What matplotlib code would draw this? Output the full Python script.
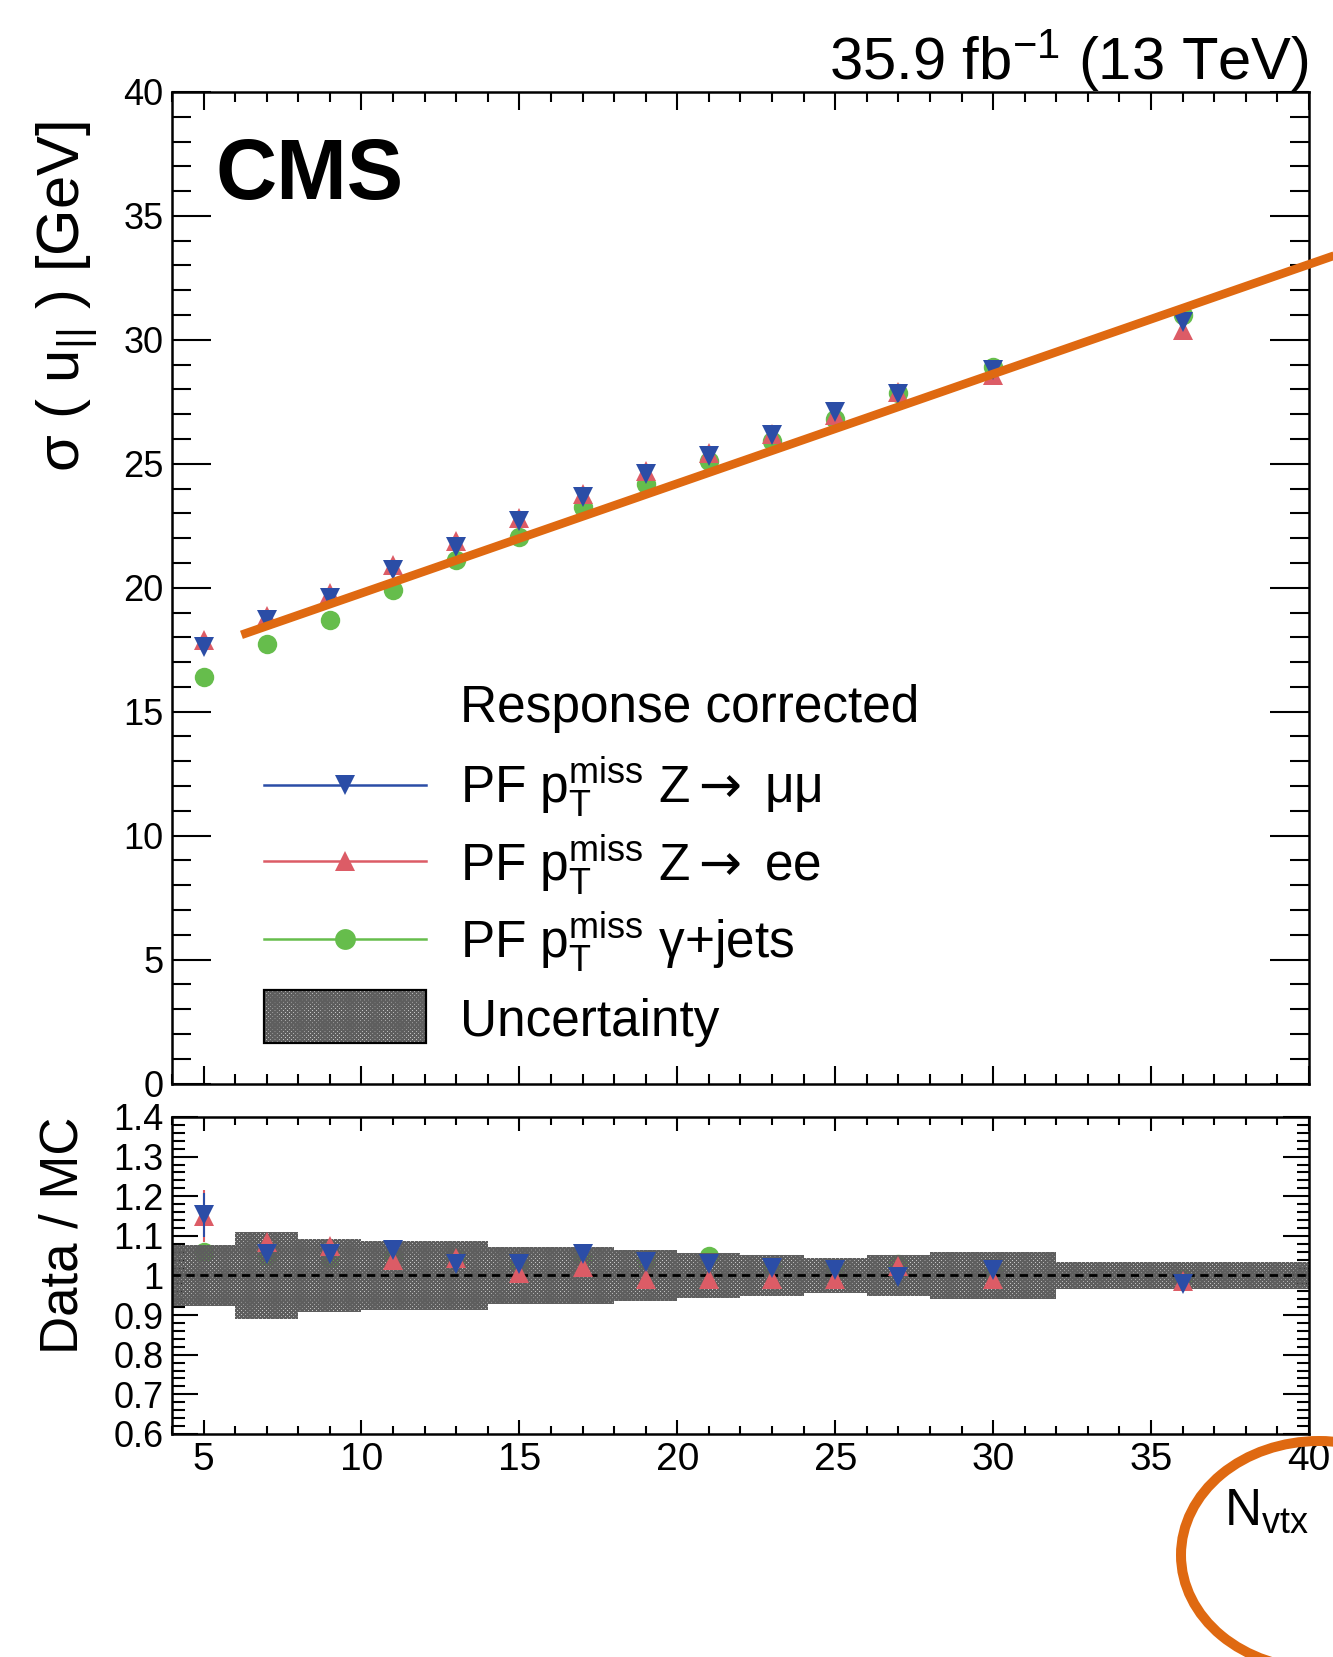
import numpy as np
import matplotlib
matplotlib.use("Agg")
import matplotlib.pyplot as plt
from matplotlib.lines import Line2D
from matplotlib.patches import Rectangle, Ellipse

plt.rcParams["font.family"] = ["Liberation Sans", "DejaVu Sans"]
plt.rcParams["mathtext.fontset"] = "custom"
plt.rcParams["mathtext.rm"] = "Liberation Sans"
plt.rcParams["mathtext.it"] = "Liberation Sans:italic"
plt.rcParams["mathtext.bf"] = "Liberation Sans:bold"
plt.rcParams["mathtext.sf"] = "DejaVu Sans"
plt.rcParams["hatch.linewidth"] = 1.5

# --- data -------------------------------------------------------------
bin_edges = [4, 6, 8, 10, 12, 14, 16, 18, 20, 22, 24, 26, 28, 32, 40]
nvtx = [5, 7, 9, 11, 13, 15, 17, 19, 21, 23, 25, 27, 30, 36]

sigma_mumu = [17.6, 18.7, 19.6, 20.7, 21.65, 22.7, 23.65, 24.6, 25.3, 26.15, 27.1, 27.8, 28.8, 30.7]
sigma_ee = [17.9, 18.85, 19.8, 20.9, 21.9, 22.8, 23.8, 24.7, 25.45, 26.2, 26.95, 27.9, 28.6, 30.4]
sigma_gjets = [16.4, 17.75, 18.7, 19.9, 21.1, 22.05, 23.25, 24.2, 25.1, 25.9, 26.8, 27.85, 28.9, 31.0]

ratio_mumu = [1.153, 1.055, 1.055, 1.064, 1.03, 1.03, 1.055, 1.034, 1.03, 1.02, 1.013, 0.996, 1.013, 0.978]
ratio_ee = [1.15, 1.085, 1.075, 1.04, 1.045, 1.005, 1.022, 0.99, 0.99, 0.99, 0.99, 1.025, 0.99, 0.985]
ratio_gjets = [1.06, 1.05, 1.045, 1.05, 1.045, 1.03, 1.045, 1.04, 1.05, 1.025, 1.015, 1.03, 1.01, 0.99]
err_mumu = [0.055, 0.012, 0.01, 0.01, 0.01, 0.008, 0.008, 0.008, 0.008, 0.008, 0.008, 0.01, 0.01, 0.012]
err_ee = [0.065, 0.014, 0.012, 0.01, 0.01, 0.008, 0.008, 0.008, 0.008, 0.008, 0.008, 0.01, 0.01, 0.012]
err_gjets = [0.02, 0.01, 0.008, 0.008, 0.008, 0.006, 0.006, 0.006, 0.006, 0.006, 0.006, 0.008, 0.008, 0.01]

# half-width of the systematic band in each N_vtx bin
band_unc = [0.078, 0.11, 0.092, 0.088, 0.087, 0.072, 0.072, 0.065, 0.056, 0.052, 0.045, 0.052, 0.06, 0.033]

# straight-line trend drawn over the resolution points
fit_nvtx = [6.2, 40.8]
fit_sigma = [18.1, 33.4]

main_yticks = [0, 5, 10, 15, 20, 25, 30, 35, 40]
ratio_yticks = [0.6, 0.7, 0.8, 0.9, 1.0, 1.1, 1.2, 1.3, 1.4]
ratio_ylabels = ["0.6", "0.7", "0.8", "0.9", "1", "1.1", "1.2", "1.3", "1.4"]
xticks = [5, 10, 15, 20, 25, 30, 35, 40]

C_MUMU = "#2b4da6"
C_EE = "#dc5c66"
C_GJ = "#66bd4c"
C_ORANGE = "#df6911"
BAND = "#5e5e5e"
HATCH = "xxxxxxxx"

ARROW = "$\\mathsf{\\rightarrow}$"
PTMISS = "$\\mathrm{p}_{\\mathrm{T}}^{\\mathrm{miss}}$"
series = [
    ("PF " + PTMISS + " Z" + ARROW + " \u03bc\u03bc", C_MUMU, "v"),
    ("PF " + PTMISS + " Z" + ARROW + " ee", C_EE, "^"),
    ("PF " + PTMISS + " \u03b3+jets", C_GJ, "o"),
]

# --- figure -----------------------------------------------------------
fig = plt.figure(figsize=(13.33, 16.57), dpi=100)
ax = fig.add_axes([0.129, 0.3461, 0.853, 0.5984])
rx = fig.add_axes([0.129, 0.1346, 0.853, 0.1913])

MS = 15
for axis in (ax, rx):
    for s in axis.spines.values():
        s.set_linewidth(1.8)
    axis.set_xlim(4, 40)
    axis.set_xticks(xticks)
    axis.set_xticks(np.arange(4, 41, 1), minor=True)

# main panel
ax.plot(nvtx, sigma_gjets, "o", color=C_GJ, ms=MS - 1, mew=0)
ax.plot(nvtx, sigma_ee, "^", color=C_EE, ms=MS, mew=0)
ax.plot(nvtx, sigma_mumu, "v", color=C_MUMU, ms=MS, mew=0)
ax.plot(fit_nvtx, fit_sigma, color=C_ORANGE, lw=6.2, solid_capstyle="butt", clip_on=False, zorder=5)

ax.set_ylim(0, 40)
ax.set_yticks(main_yticks)
ax.set_yticks(np.arange(0, 41, 1), minor=True)
ax.set_xticklabels([])
ax.tick_params(which="both", direction="in", top=True, right=True, width=1.5, labelsize=26, pad=6)
ax.tick_params(axis="x", which="major", length=13)
ax.tick_params(axis="x", which="minor", length=7)
ax.tick_params(axis="y", which="major", length=28)
ax.tick_params(axis="y", which="minor", length=14)

ax.text(0.038, 0.955, "CMS", transform=ax.transAxes, fontsize=61, fontweight="bold", va="top", ha="left")

# legend keys
lx0, lx1, tx = 0.0813, 0.2235, 0.2531
ax.text(tx, 0.365, "Response corrected", transform=ax.transAxes, fontsize=37, va="baseline")
for (label, col, mk), yk, yb in zip(series, [0.301, 0.224, 0.146], [0.283, 0.205, 0.127]):
    ax.add_line(Line2D([lx0, lx1], [yk, yk], transform=ax.transAxes, color=col, lw=1.8, clip_on=False))
    ax.add_line(Line2D([(lx0 + lx1) / 2], [yk], transform=ax.transAxes, color=col, marker=mk,
                       ms=MS, mew=0, ls="none"))
    ax.text(tx, yb, label, transform=ax.transAxes, fontsize=37, va="baseline")
ax.add_patch(Rectangle((lx0, 0.0405), lx1 - lx0, 0.0535, transform=ax.transAxes, facecolor="none",
                       edgecolor=BAND, lw=0, hatch=HATCH))
ax.add_patch(Rectangle((lx0, 0.0405), lx1 - lx0, 0.0535, transform=ax.transAxes, facecolor="none",
                       edgecolor="black", lw=1.6))
ax.text(tx, 0.048, "Uncertainty", transform=ax.transAxes, fontsize=37, va="baseline")

# ratio panel: photon points sit under the band, Z points on top
lefts = np.array(bin_edges[:-1])
widths = np.diff(bin_edges)
unc = np.array(band_unc)
rx.errorbar(nvtx, ratio_gjets, yerr=err_gjets, fmt="o", color=C_GJ, ms=MS - 1, mew=0, elinewidth=1.5,
            capsize=0, zorder=1)
rx.bar(lefts, 2 * unc, bottom=1 - unc, width=widths, align="edge", facecolor="none",
       edgecolor=BAND, linewidth=0, hatch=HATCH, zorder=2)
rx.axhline(1.0, color="black", lw=2.0, ls=(0, (3, 2)), zorder=3)
rx.errorbar(nvtx, ratio_ee, yerr=err_ee, fmt="^", color=C_EE, ms=MS, mew=0, elinewidth=1.5, capsize=0, zorder=4)
rx.errorbar(nvtx, ratio_mumu, yerr=err_mumu, fmt="v", color=C_MUMU, ms=MS, mew=0, elinewidth=1.5, capsize=0, zorder=5)

rx.set_ylim(0.6, 1.4)
rx.set_yticks(ratio_yticks)
rx.set_yticklabels(ratio_ylabels)
rx.set_yticks(np.arange(0.6, 1.401, 0.02), minor=True)
rx.tick_params(which="both", direction="in", top=True, right=True, width=1.5, pad=6)
rx.tick_params(axis="y", labelsize=26)
rx.tick_params(axis="x", labelsize=28)
rx.tick_params(axis="x", which="major", length=10)
rx.tick_params(axis="x", which="minor", length=5.5)
rx.tick_params(axis="y", which="major", length=19)
rx.tick_params(axis="y", which="minor", length=9)

# axis titles and header
fig.text(0.050, 0.927, "\u03c3 ( u$_{||}$ ) [GeV]", rotation=90, ha="center", va="top", fontsize=43)
fig.text(0.0477, 0.326, "Data / MC", rotation=90, ha="center", va="top", fontsize=38)
fig.text(0.982, 0.103, "N$_{\\mathrm{vtx}}$", ha="right", va="top", fontsize=37)
fig.text(0.982, 0.952, "35.9 fb$^{-1}$ (13 TeV)", ha="right", va="baseline", fontsize=43)

# ring around the x-axis title
fig.add_artist(Ellipse((13.19, 1.02), 2.76, 2.28, transform=fig.dpi_scale_trans, fill=False,
                       edgecolor=C_ORANGE, lw=7.2, clip_on=False))

fig.savefig("out.png", dpi=100)
